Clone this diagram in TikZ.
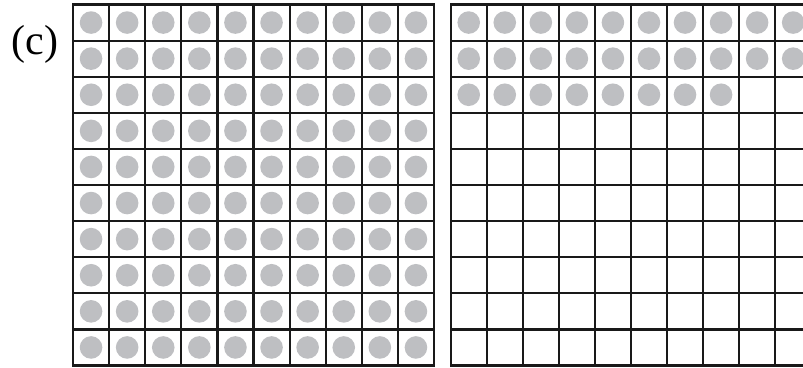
\documentclass[tikz,border=0pt]{standalone}
\usepackage{fontspec}
\setmainfont{Liberation Serif}
\definecolor{dotgray}{RGB}{190,191,194}
\begin{document}
\begin{tikzpicture}[x=1pt,y=-1pt,
  gridline/.style={line width=2.2pt, draw=black!90, line cap=rect},
  dotfill/.style={fill=dotgray},
  labelstyle/.style={font=\fontsize{42}{46}\selectfont, inner sep=0pt}]
\useasboundingbox (0,0) rectangle (803,367);
\clip (0,0) rectangle (803,367);
\node[labelstyle] (lab) at (35,44) {(c)};
% left panel: all 100 cells filled
\foreach \i in {0,...,9} {
  \foreach \j in {0,...,9} {
    \fill[dotfill] ({73+36.1*(\i+0.5)},{4.5+36.1*(\j+0.5)}) circle (11.3pt);
  }
}
\foreach \i in {0,...,10} {
  \draw[gridline] ({73+36.1*\i},4.5) -- ({73+36.1*\i},365.5);
  \draw[gridline] (73,{4.5+36.1*\i}) -- (434,{4.5+36.1*\i});
}
% right panel: 28 cells filled
\foreach \i in {0,...,9} {
  \foreach \j in {0,1} {
    \fill[dotfill] ({450.7+36.05*(\i+0.5)},{4.5+36.1*(\j+0.5)}) circle (11.3pt);
  }
}
\foreach \i in {0,...,7} {
  \fill[dotfill] ({450.7+36.05*(\i+0.5)},{4.5+36.1*2.5}) circle (11.3pt);
}
\foreach \i in {0,...,10} {
  \draw[gridline] ({450.7+36.05*\i},4.5) -- ({450.7+36.05*\i},365.5);
  \draw[gridline] (450.7,{4.5+36.1*\i}) -- (811.2,{4.5+36.1*\i});
}
\end{tikzpicture}
\end{document}
